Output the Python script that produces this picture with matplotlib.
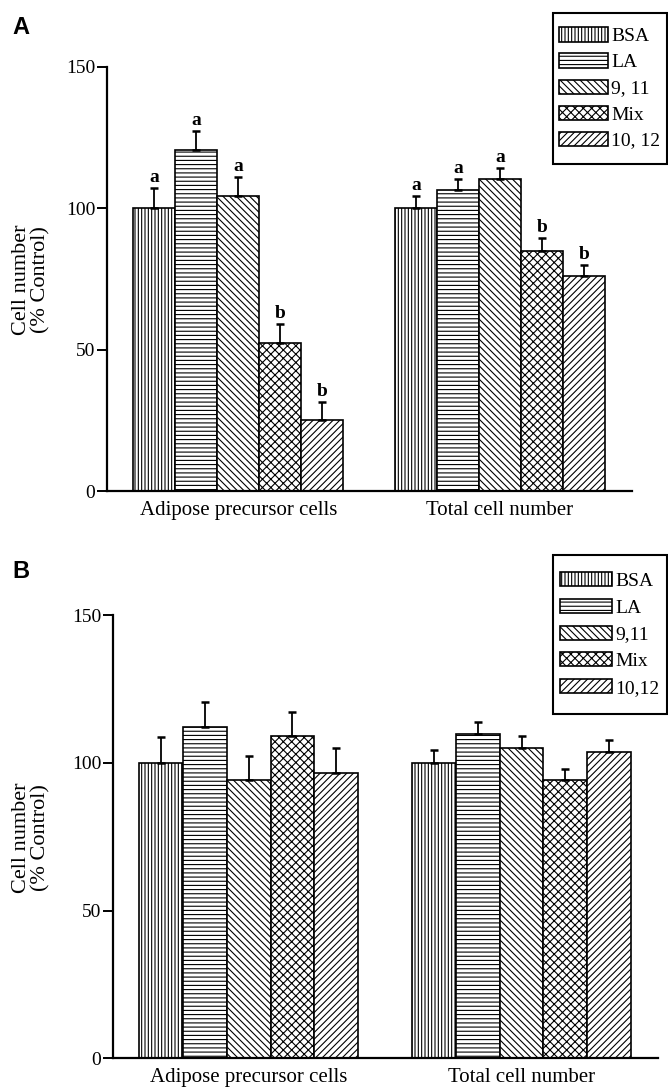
import numpy as np
import matplotlib
matplotlib.use('Agg')
from matplotlib import pyplot as plt
from matplotlib.patches import Rectangle

plt.rcParams['font.family'] = ['Liberation Serif', 'DejaVu Serif']
plt.rcParams['hatch.linewidth'] = 0.8

groups = ['Adipose precursor cells', 'Total cell number']
labels_a = ['BSA', 'LA', '9, 11', 'Mix', '10, 12']
labels_b = ['BSA', 'LA', '9,11', 'Mix', '10,12']
hatches = ['|||||', '----', '\\\\\\\\\\', 'xxxx', '/////']

# panel A (mean, upper SE) in % of control
a_precursor = [100, 120.5, 104.4, 52.4, 25]
a_precursor_err = [7, 6.8, 6.7, 6.7, 6.6]
a_total = [100, 106.3, 110.3, 84.9, 76]
a_total_err = [4.4, 4, 4, 4.4, 4]
a_letters_precursor = ['a', 'a', 'a', 'b', 'b']
a_letters_total = ['a', 'a', 'a', 'b', 'b']

# panel B
b_precursor = [100, 112, 94.2, 108.9, 96.7]
b_precursor_err = [8.6, 8.7, 8.2, 8.4, 8.4]
b_total = [100, 109.7, 104.9, 94, 103.5]
b_total_err = [4.4, 4.2, 4.2, 4.0, 4.3]

W, H = 668, 1089
fig = plt.figure(figsize=(W / 100, H / 100), dpi=100)

def draw_panel(box, xlim, prec, prec_err, tot, tot_err, names, legbox, handlelen,
               spacing, letters_prec=None, letters_tot=None):
    left, top, right, bottom = box
    ax = fig.add_axes([left / W, 1 - bottom / H, (right - left) / W, (bottom - top) / H])
    pos1 = np.arange(5)
    pos2 = 6.22 + np.arange(5)
    for i in range(5):
        ax.bar([pos1[i], pos2[i]], [prec[i], tot[i]], width=1.0, color='white',
               edgecolor='black', hatch=hatches[i], linewidth=1.2, label=names[i],
               zorder=2)
    xs = np.concatenate([pos1, pos2])
    ys = np.array(prec + tot)
    errs = np.array(prec_err + tot_err)
    ax.errorbar(xs, ys, yerr=[np.zeros(10), errs], fmt='none', ecolor='black',
                elinewidth=1.3, capsize=3.2, capthick=1.8, zorder=3)
    if letters_prec is not None:
        for x, y, e, t in zip(xs, ys, errs, letters_prec + letters_tot):
            ax.annotate(t, (x, y + e), xytext=(0, 1.5), textcoords='offset points',
                        ha='center', va='bottom', fontsize=14, fontweight='bold')
    ax.set_xlim(xlim)
    ax.set_ylim(0, 150)
    ax.set_yticks([0, 50, 100, 150])
    ax.set_xticks([2, 6.22 + 2])
    ax.set_xticklabels(groups, fontsize=15)
    ax.tick_params(axis='x', length=0, pad=7)
    ax.tick_params(axis='y', length=7, width=1.4, pad=1.5, labelsize=14)
    for s in ['top', 'right']:
        ax.spines[s].set_visible(False)
    for s in ['left', 'bottom']:
        ax.spines[s].set_linewidth(1.6)

    bx0, by0, bx1, by1 = legbox
    fig.add_artist(Rectangle((bx0 / W, 1 - by1 / H), (bx1 - bx0) / W, (by1 - by0) / H,
                             transform=fig.transFigure, fill=False,
                             edgecolor='black', linewidth=1.5))
    ax.legend(loc='center', bbox_to_anchor=((bx0 + bx1) / 2 / W, 1 - (by0 + by1) / 2 / H),
              bbox_transform=fig.transFigure, frameon=False, fontsize=14,
              handlelength=handlelen, handleheight=0.75, handletextpad=0.2,
              labelspacing=spacing, borderpad=0.2, borderaxespad=0)
    return ax

draw_panel((107, 66.7, 632, 491), (-1.119, 11.36), a_precursor, a_precursor_err,
           a_total, a_total_err, labels_a, (553, 13, 667, 164), 2.47, 0.42,
           a_letters_precursor, a_letters_total)
draw_panel((113, 615, 658, 1058.3), (-1.09, 11.33), b_precursor, b_precursor_err,
           b_total, b_total_err, labels_b, (553, 555, 667, 714), 2.65, 0.45)

for yc in [280, 838]:
    fig.text(31 / W, 1 - yc / H, 'Cell number\n(% Control)', rotation=90,
             ha='center', va='center', fontsize=16, linespacing=1.05)

fig.text(12 / W, 1 - 34 / H, 'A', fontsize=17, fontweight='bold',
         family=['Liberation Sans', 'DejaVu Sans'])
fig.text(12 / W, 1 - 578 / H, 'B', fontsize=17, fontweight='bold',
         family=['Liberation Sans', 'DejaVu Sans'])

fig.savefig('out.png', dpi=100)
